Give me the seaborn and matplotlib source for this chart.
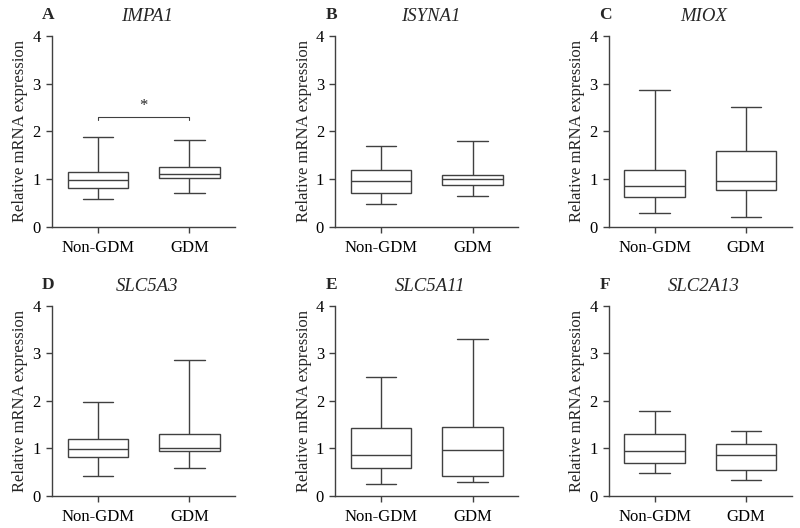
import matplotlib
matplotlib.use("Agg")
import matplotlib.pyplot as plt
import seaborn as sns
import pandas as pd

sns.set_style("ticks")
plt.rcParams['font.family'] = ['Liberation Serif', 'DejaVu Serif']

groups = ["Non-GDM", "GDM"]
genes = ["IMPA1", "ISYNA1", "MIOX", "SLC5A3", "SLC5A11", "SLC2A13"]
letters = ["A", "B", "C", "D", "E", "F"]

# five-number summaries per group: min, q1, median, q3, max
impa1_non = [0.58, 0.81, 0.99, 1.15, 1.89]
impa1_gdm = [0.72, 1.03, 1.10, 1.26, 1.82]
isyna1_non = [0.48, 0.72, 0.97, 1.19, 1.69]
isyna1_gdm = [0.66, 0.88, 1.01, 1.09, 1.81]
miox_non = [0.30, 0.63, 0.85, 1.20, 2.86]
miox_gdm = [0.22, 0.77, 0.97, 1.59, 2.52]
slc5a3_non = [0.42, 0.82, 0.98, 1.19, 1.98]
slc5a3_gdm = [0.58, 0.94, 1.01, 1.29, 2.85]
slc5a11_non = [0.25, 0.59, 0.85, 1.43, 2.50]
slc5a11_gdm = [0.28, 0.42, 0.97, 1.45, 3.29]
slc2a13_non = [0.47, 0.69, 0.94, 1.29, 1.78]
slc2a13_gdm = [0.34, 0.55, 0.86, 1.09, 1.36]

summaries = [
    (impa1_non, impa1_gdm), (isyna1_non, isyna1_gdm), (miox_non, miox_gdm),
    (slc5a3_non, slc5a3_gdm), (slc5a11_non, slc5a11_gdm), (slc2a13_non, slc2a13_gdm),
]

fig = plt.figure(figsize=(8, 5.28), dpi=100)
lefts = [0.065, 0.419, 0.761]
bottoms = [0.570, 0.061]
heights = [0.362, 0.36]
line_c = "#404040"

for i, gene in enumerate(genes):
    r, c = divmod(i, 3)
    ax = fig.add_axes([lefts[c], bottoms[r], 0.229, heights[r]])
    non, gdm = summaries[i]
    df = pd.DataFrame({"group": ["Non-GDM"] * 5 + ["GDM"] * 5, "value": non + gdm})
    sns.boxplot(data=df, x="group", y="value", order=groups, ax=ax,
                whis=(0, 100), width=0.66, color="white", saturation=1,
                linecolor=line_c, linewidth=1.0, showfliers=False)
    ax.set_xlim(-0.5, 1.5)
    ax.set_ylim(0, 4)
    ax.set_yticks([0, 1, 2, 3, 4])
    ax.set_xlabel("")
    ax.set_ylabel("Relative mRNA expression", fontsize=12, labelpad=3)
    ax.tick_params(labelsize=12, length=4.5, width=1, colors="black")
    ax.tick_params(axis="x", pad=5)
    ax.tick_params(color=line_c)
    for s in ["left", "bottom"]:
        ax.spines[s].set_color(line_c)
        ax.spines[s].set_linewidth(1)
    sns.despine(ax=ax)
    ax.text(0.52, 1.10, gene, transform=ax.transAxes, ha="center", va="center",
            fontsize=13.5, style="italic")
    ax.text(-0.02, 1.11, letters[i], transform=ax.transAxes, ha="center", va="center",
            fontsize=12.5, fontweight="bold")
    if gene == "IMPA1":
        ax.plot([0, 0, 1, 1], [2.25, 2.31, 2.31, 2.25], color=line_c, lw=0.8)
        ax.text(0.5, 2.36, "*", ha="center", va="bottom", fontsize=12)

fig.savefig("out.png", dpi=100)
